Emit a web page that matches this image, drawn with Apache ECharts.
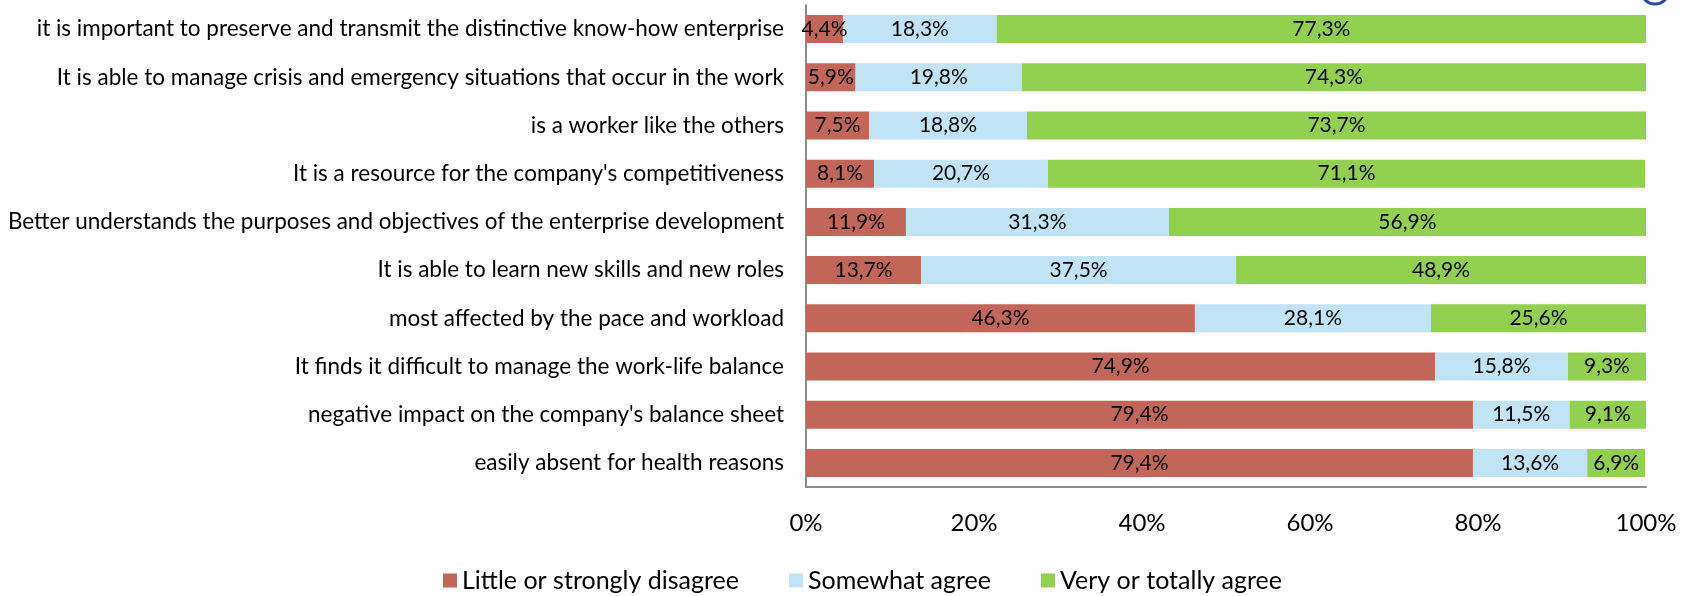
<!DOCTYPE html>
<html>
<head>
<meta charset="utf-8">
<script src="https://cdn.jsdelivr.net/npm/echarts@6/dist/echarts.min.js"></script>
<style>
html,body{margin:0;padding:0;background:#fff;}
#chart{width:1686px;height:596px;}
</style>
</head>
<body>
<div id="chart"></div>
<script>
const categories = [
  "it is important to preserve and transmit the distinctive know-how enterprise",
  "It is able to manage crisis and emergency situations that occur in the work",
  "is a worker like the others",
  "It is a resource for the company's competitiveness",
  "Better understands the purposes and objectives of the enterprise development",
  "It is able to learn new skills and new roles",
  "most affected by the pace and workload",
  "It finds it difficult to manage the work-life balance",
  "negative impact on the company's balance sheet",
  "easily absent for health reasons"
];
const disagree = [4.4, 5.9, 7.5, 8.1, 11.9, 13.7, 46.3, 74.9, 79.4, 79.4];
const somewhat = [18.3, 19.8, 18.8, 20.7, 31.3, 37.5, 28.1, 15.8, 11.5, 13.6];
const veryAgree = [77.3, 74.3, 73.7, 71.1, 56.9, 48.9, 25.6, 9.3, 9.1, 6.9];
const seriesNames = ["Little or strongly disagree", "Somewhat agree", "Very or totally agree"];
const xTicks = [0, 20, 40, 60, 80, 100];

const FONT = "Lato";
const chart = echarts.init(document.getElementById('chart'));
const lbl = {
  show: true, position: 'inside', color: '#000', fontFamily: FONT, fontSize: 21,
  formatter: p => p.value.toFixed(1).replace('.', ',') + '%'
};
const colors = ['#C3665A', '#C0E4F6', '#92D050'];
const dataSets = [disagree, somewhat, veryAgree];
chart.setOption({
  animation: false,
  textStyle: {fontFamily: FONT},
  grid: {left: 806, right: 40, top: 5, bottom: 109, containLabel: false},
  legend: {
    bottom: -2, left: 438, itemWidth: 14, itemHeight: 14, itemGap: 50,
    icon: 'rect',
    textStyle: {fontFamily: FONT, fontSize: 25, color: '#000'},
    data: seriesNames
  },
  xAxis: {
    type: 'value', min: 0, max: 100, interval: 20,
    axisLine: {show: true, lineStyle: {color: '#8c8c8c', width: 2}},
    axisTick: {show: false},
    splitLine: {show: false},
    axisLabel: {margin: 24, fontFamily: FONT, fontSize: 24, color: '#000', formatter: v => xTicks.includes(v) ? v + '%' : ''}
  },
  yAxis: {
    type: 'category', inverse: true, data: categories,
    axisLine: {show: true, lineStyle: {color: '#8c8c8c', width: 2}},
    axisTick: {show: false},
    axisLabel: {margin: 22, fontFamily: FONT, fontSize: 22.5, color: '#000'}
  },
  series: seriesNames.map((n, i) => ({
    name: n, type: 'bar', stack: 'total', data: dataSets[i],
    barCategoryGap: '42%',
    itemStyle: {color: colors[i]},
    label: lbl
  })),
  graphic: [{
    type: 'circle', shape: {cx: 1655, cy: -10, r: 14},
    style: {fill: '#fff', stroke: '#2a4aa8', lineWidth: 3}
  }]
});
</script>
</body>
</html>
